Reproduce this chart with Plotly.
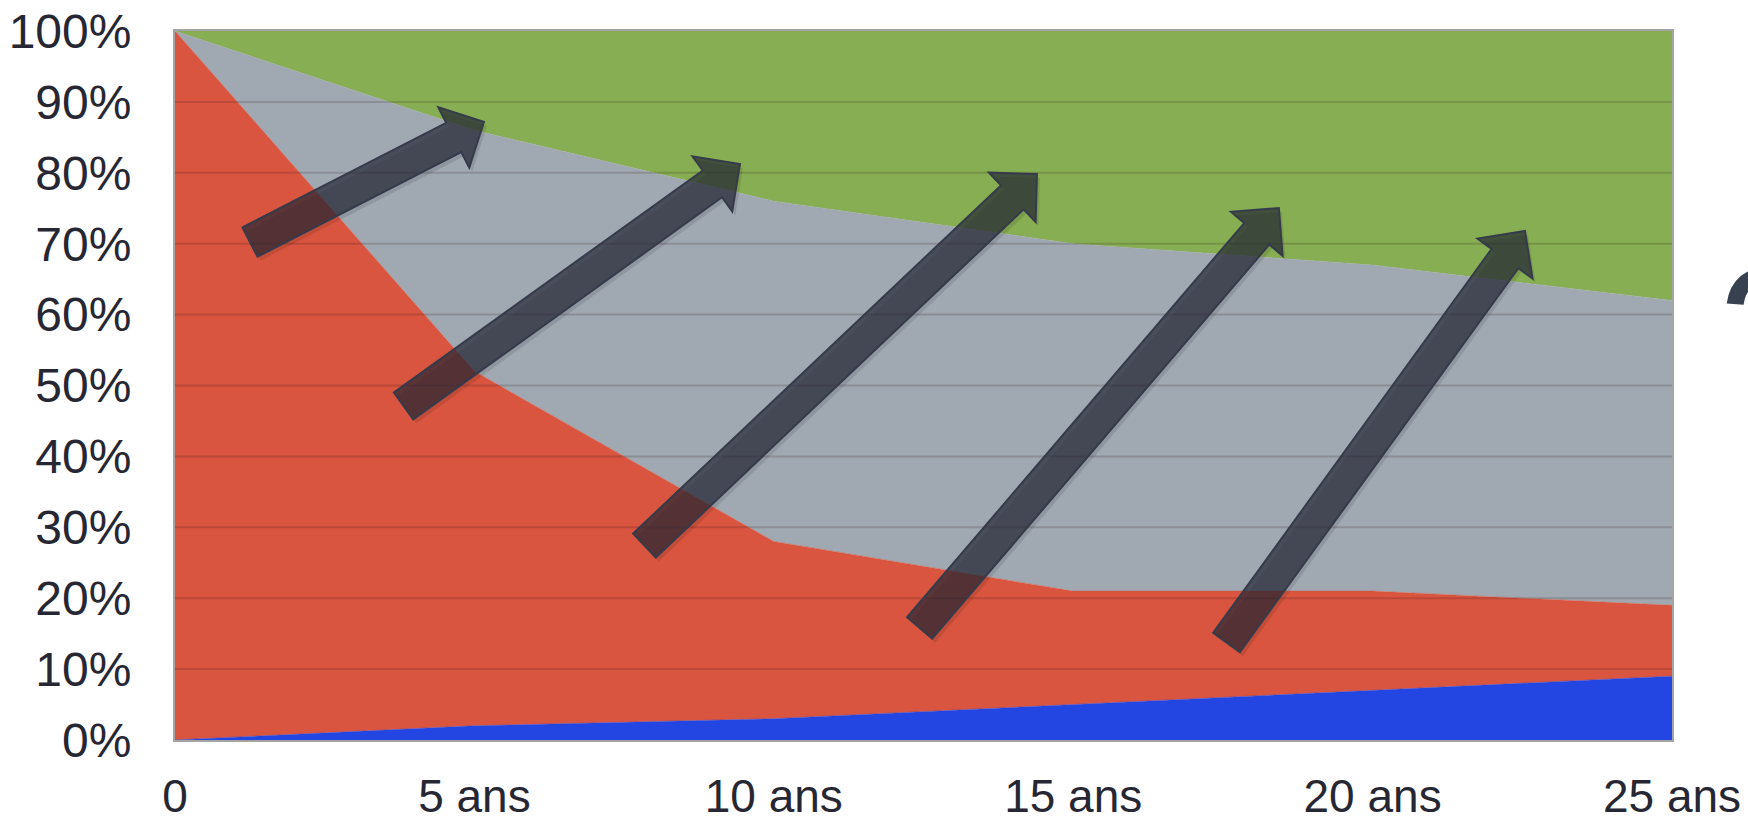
import numpy as np
import plotly.graph_objects as go

# Horizon labels and share of each component (percent of total)
horizons = ["0", "5 ans", "10 ans", "15 ans", "20 ans", "25 ans"]
blue_share = [0, 2, 3, 5, 7, 9]
red_share = [100, 50, 25, 16, 14, 10]
gray_share = [0, 34, 48, 49, 46, 43]
green_share = [0, 14, 24, 30, 33, 38]

y_ticks = [0, 10, 20, 30, 40, 50, 60, 70, 80, 90, 100]

# Block arrows: (tail, tip) in axis units (x = horizon index, y = percent)
arrows = [
    ((0.2505, 70.24), (1.032, 87.17)),
    ((0.7632, 47.11), (1.887, 81.24)),
    ((1.568, 27.43), (2.879, 79.83)),
    ((2.487, 15.80), (3.687, 75.04)),
    ((3.512, 13.75), (4.509, 71.79)),
]

W_FIG, H_FIG = 1748, 824
M_L, M_R, M_T, M_B = 175, 76, 31, 84
PW = W_FIG - M_L - M_R
PH = H_FIG - M_T - M_B
X_MAX = len(horizons) - 1

FONT = "Liberation Sans, Arial, Helvetica, sans-serif"
TEXT_COLOR = "#272733"
FONT_SIZE = 48

x_idx = list(range(len(horizons)))

series = [
    ("Bleu", blue_share, "#2346e3"),
    ("Rouge", red_share, "#d9553f"),
    ("Gris", gray_share, "#a0a8b1"),
    ("Vert", green_share, "#87ae52"),
]

fig = go.Figure()
for name, vals, col in series:
    fig.add_trace(go.Scatter(
        x=x_idx, y=vals, name=name, mode="lines",
        stackgroup="one", fillcolor=col,
        line=dict(width=0.5, color=col),
        hoverinfo="skip", showlegend=False,
    ))


def to_px(x, y):
    return M_L + x * PW / X_MAX, M_T + (100 - y) * PH / 100


def to_data(px, py):
    return (px - M_L) * X_MAX / PW, 100 - (py - M_T) * 100 / PH


def arrow_path(tail, tip, shaft=16.5, head=34.0, head_len=34.0, dx=0.0, dy=0.0):
    t = np.array(to_px(*tail)) + [dx, dy]
    p = np.array(to_px(*tip)) + [dx, dy]
    d = (p - t) / np.linalg.norm(p - t)
    n = np.array([-d[1], d[0]])
    neck = p - d * head_len
    pts = [t + n * shaft, neck + n * shaft, neck + n * head, p,
           neck - n * head, neck - n * shaft, t - n * shaft]
    coords = [to_data(*q) for q in pts]
    return "M " + " L ".join(f"{a:.5f},{b:.4f}" for a, b in coords) + " Z"


shapes = []
# grid lines drawn over the filled areas
for v in y_ticks[1:-1]:
    shapes.append(dict(type="line", xref="x", yref="y", x0=0, x1=X_MAX, y0=v, y1=v,
                       line=dict(color="rgba(40,20,20,0.17)", width=2), layer="above"))

for tail, tip in arrows:
    shapes.append(dict(type="path", xref="x", yref="y",
                       path=arrow_path(tail, tip, dx=3, dy=4),
                       fillcolor="rgba(0,0,0,0.10)", line=dict(width=0), layer="above"))
    shapes.append(dict(type="path", xref="x", yref="y",
                       path=arrow_path(tail, tip),
                       fillcolor="rgba(36,38,52,0.70)",
                       line=dict(color="#353b4b", width=2), layer="above"))

fig.update_layout(
    width=W_FIG, height=H_FIG,
    margin=dict(l=M_L, r=M_R, t=M_T, b=M_B, pad=0, autoexpand=False),
    paper_bgcolor="white", plot_bgcolor="white",
    font=dict(family=FONT, size=FONT_SIZE, color=TEXT_COLOR),
    shapes=shapes,
    xaxis=dict(
        range=[0, X_MAX], tickvals=x_idx, ticktext=horizons,
        showgrid=False, zeroline=False, ticks="", automargin=False,
        showline=True, mirror=True, linecolor="#a4a4a4", linewidth=2,
        layer="above traces", ticklabelstandoff=15,
        tickfont=dict(size=46, family=FONT, color=TEXT_COLOR),
    ),
    yaxis=dict(
        range=[0, 100], tickvals=y_ticks, ticktext=[f"{v}%" for v in y_ticks],
        showgrid=False, zeroline=False, ticks="", automargin=False,
        showline=True, mirror=True, linecolor="#a4a4a4", linewidth=2,
        layer="above traces", ticklabelstandoff=32,
        tickfont=dict(size=FONT_SIZE, family=FONT, color=TEXT_COLOR),
    ),
    annotations=[dict(
        text="?", xref="paper", yref="paper", x=1.030, y=0.726,
        xanchor="left", yanchor="top", showarrow=False,
        font=dict(size=188, family=FONT, color="#37414f"),
    )],
)

fig.write_html("out.html")
